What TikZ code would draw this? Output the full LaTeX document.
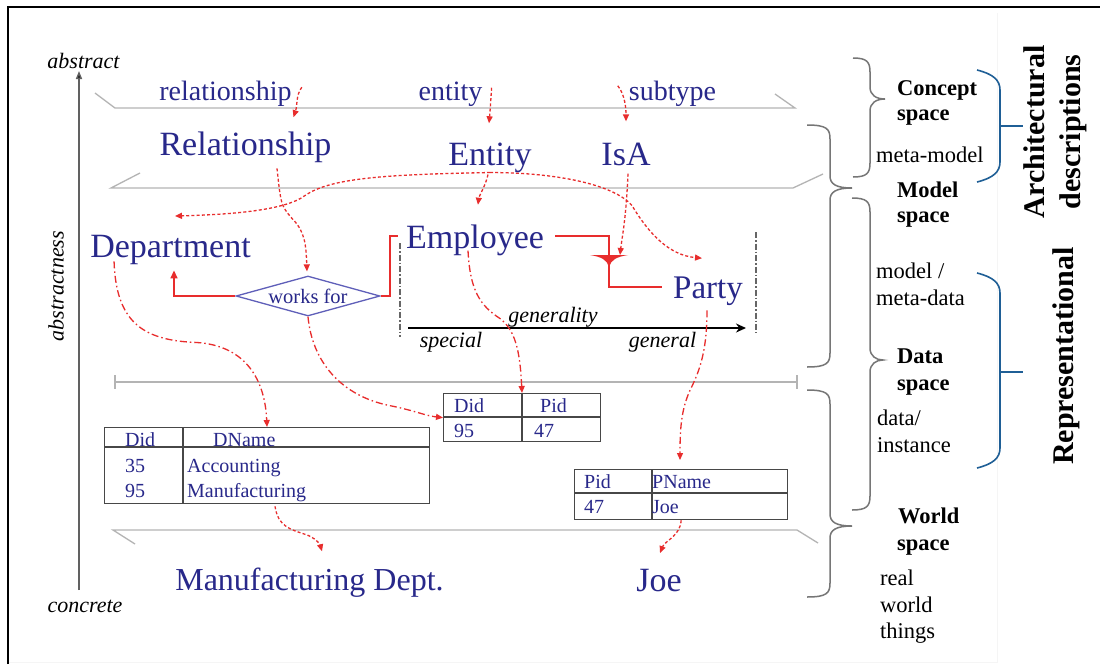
\documentclass[tikz,border=0pt]{standalone}
\usepackage{fontspec}
\setmainfont{Liberation Serif}
\usetikzlibrary{arrows.meta,shapes.geometric,calc}

\definecolor{ink}{RGB}{40,40,138}
\definecolor{rd}{RGB}{232,45,45}
\definecolor{planegray}{RGB}{180,180,180}
\definecolor{bracegray}{RGB}{118,118,118}
\definecolor{bluebr}{RGB}{31,95,150}
\definecolor{diaedge}{RGB}{95,95,185}

\tikzset{
  word/.style={anchor=base, inner sep=0pt, text=ink},
  smallword/.style={word, font=\fontsize{28}{30}\selectfont},
  bigword/.style={word, font=\fontsize{34}{36}\selectfont},
  cell/.style={anchor=base west, inner sep=0pt, text=ink, font=\fontsize{20}{22}\selectfont},
  side/.style={anchor=base west, inner sep=0pt, font=\fontsize{22.5}{24}\selectfont},
  sideb/.style={anchor=base west, inner sep=0pt, font=\fontsize{22.5}{24}\selectfont\bfseries},
  axislbl/.style={inner sep=0pt, font=\fontsize{22}{24}\selectfont\itshape},
  planeline/.style={draw=planegray, line width=1.3pt},
  bracepath/.style={draw=bracegray, line width=1.5pt},
  bluebrace/.style={draw=bluebr, line width=1.6pt},
  redline/.style={draw=rd, line width=1.5pt},
  tip/.style={-{Triangle[length=7pt,width=6pt]}},
  dotarrow/.style={draw=rd, line width=1.3pt, dash pattern=on 3pt off 2.2pt, tip},
  dasharrow/.style={draw=rd, line width=1.3pt, dash pattern=on 7pt off 3pt on 1.5pt off 3pt, tip},
  tbl/.style={draw=black!72, line width=1.3pt, inner sep=0pt, anchor=north west},
  tblline/.style={draw=black!72, line width=1.3pt},
  limitline/.style={draw=black!60, line width=1.2pt, dash pattern=on 6pt off 2pt on 1.5pt off 2pt},
}

% curly brace on the right-hand side: left end x, spine x, tip x, top y, tip y, bottom y
\newcommand{\sidebrace}[6]{%
  \draw[bracepath] (#1,#4) .. controls (#2-3,#4) and (#2,#4+4) .. (#2,#4+14)
    -- (#2,#5-12) .. controls (#2,#5-4) and (#2+6,#5) .. (#3,#5)
    .. controls (#2+6,#5) and (#2,#5+4) .. (#2,#5+12)
    -- (#2,#6-14) .. controls (#2,#6-4) and (#2-3,#6) .. (#1,#6);}

\begin{document}
\begin{tikzpicture}[x=1pt,y=-1pt]
\useasboundingbox (0,0) rectangle (1100,664);
\fill[white] (0,0) rectangle (1100,664);

% frame
\draw[black!4, line width=1pt] (8,662) -- (997,662) -- (997,13);
\draw[line width=2.5pt] (8,664) -- (8,7) -- (1100,7);

% abstraction axis
\coordinate (axbot) at (79,590);
\coordinate (axtop) at (79,71);
\draw[draw=black!62, line width=1.5pt, -{Triangle[length=8pt,width=6pt,fill=black]}] (axbot) -- (axtop);
\node[axislbl, anchor=base] (abs) at (83.5,68) {abstract};
\node[axislbl, anchor=base] (conc) at (85,612) {concrete};
\node[axislbl, rotate=90] (absn) at (56,286) {abstractness};

% plane boundaries
\draw[planeline] (95,93) -- (115,108) -- (795,108) -- (775,94);
\draw[planeline] (140,173) -- (111,188) -- (793,188) -- (823,174);
\draw[planeline] (115,375) -- (115,389);
\draw[planeline] (115,382) -- (797,382);
\draw[planeline] (797,375) -- (797,389);
\draw[planeline] (135,544) -- (113,530) -- (797,530) -- (818,543);

% concept space
\node[smallword] (relw) at (225.5,100) {relationship};
\node[smallword] (entw) at (450.5,100) {entity};
\node[smallword] (subw) at (672.5,100) {subtype};

% model space
\node[bigword] (Rel) at (245.5,155) {Relationship};
\node[bigword] (Ent) at (490,165) {Entity};
\node[bigword] (IsA) at (626,165) {IsA};

% data model
\node[bigword] (dept) at (170.5,257) {Department};
\node[bigword] (emp) at (475,248) {Employee};
\node[word, font=\fontsize{33}{35}\selectfont] (party) at (708,298) {Party};
\node[draw=diaedge, line width=1.3pt, shape=diamond, aspect=3.6,
      minimum width=144pt, minimum height=40pt, inner sep=0pt,
      text=ink, font=\fontsize{20.5}{22}\selectfont] (wf) at (308,296) {works for};

% generality scale
\draw[limitline] (400,243) -- (400,337);
\draw[limitline] (756,232) -- (756,333);
\coordinate (gl) at (408,328);
\coordinate (gr) at (746,328);
\draw[line width=1.5pt, -{Stealth[length=10pt,width=9pt]}] (gl) -- (gr);
\node[axislbl, anchor=base] (genl) at (553,322) {generality};
\node[axislbl, anchor=base] (spec) at (451,347) {special};
\node[axislbl, anchor=base] (gen) at (662.5,347) {general};

% relationship lines
\draw[redline] ($(emp.west)+(-8,-4)$) -- ++(-8,0) |- (wf.east);
\draw[redline, -{Triangle[length=8pt,width=7pt]}] (wf.west) -| ($(dept.south)+(3.5,6)$);
\coordinate (tri) at (609,257);
\draw[redline] ($(emp.east)+(11,-4)$) -| (tri);
\fill[rd] (590,255) -- (628,255) .. controls (616,257) and (611,260) .. (609,267)
  .. controls (607,260) and (602,257) .. (590,255);
\draw[redline] ($(tri)+(0,8)$) |- ($(party.west)+(-11,-4)$);

% tables
\node[tbl, minimum width=325pt, minimum height=76pt] (dtab) at (104,427) {};
\draw[tblline] ($(dtab.north west)+(0,20)$) -- ($(dtab.north east)+(0,20)$);
\draw[tblline] ($(dtab.north west)+(79,0)$) -- ($(dtab.south west)+(79,0)$);
\node[cell] at (125,446) {Did};
\node[cell] at (213,446) {DName};
\node[cell] at (125,472) {35};
\node[cell] at (187,472) {Accounting};
\node[cell] at (125,497) {95};
\node[cell] at (187,497) {Manufacturing};

\node[tbl, minimum width=157pt, minimum height=48pt] (ptab) at (443,393) {};
\draw[tblline] ($(ptab.north west)+(0,24)$) -- ($(ptab.north east)+(0,24)$);
\draw[tblline] ($(ptab.north west)+(79,0)$) -- ($(ptab.south west)+(79,0)$);
\node[cell] at (454,412) {Did};
\node[cell] at (540,412) {Pid};
\node[cell] at (454,437) {95};
\node[cell] at (534,437) {47};

\node[tbl, minimum width=213pt, minimum height=50pt] (pntab) at (574,469) {};
\draw[tblline] ($(pntab.north west)+(0,24)$) -- ($(pntab.north east)+(0,24)$);
\draw[tblline] ($(pntab.north west)+(78,0)$) -- ($(pntab.south west)+(78,0)$);
\node[cell] at (584,488) {Pid};
\node[cell] at (652,488) {PName};
\node[cell] at (584,513) {47};
\node[cell] at (652,513) {Joe};

% world space
\node[word, font=\fontsize{32}{34}\selectfont] (mdept) at (309.5,590) {Manufacturing Dept.};
\node[bigword] (joe) at (659,591) {Joe};

% instantiation arrows between concept and model space
\draw[dotarrow] ($(relw.east)+(10,-6)$) .. controls ($(relw.east)+(4,2)$) and ($(Rel.north)+(52,-26)$) .. ($(Rel.north)+(48,-14)$);
\draw[dotarrow] ($(entw.east)+(9,-6)$) .. controls ($(entw.east)+(8,10)$) and ($(Ent.north)+(0,-30)$) .. ($(Ent.north)+(-1,-19)$);
\draw[dotarrow] ($(subw.west)+(-11,-7.5)$) .. controls ($(subw.west)+(-6,-1.5)$) and ($(IsA.north)+(0,-40)$) .. ($(IsA.north)+(0,-21)$);

% instantiation arrows between model space and data model
\draw[dotarrow] ($(Rel.south)+(31.5,6)$) .. controls ($(Rel.south)+(35.5,43)$) .. ($(Rel.south)+(46.5,56)$)
  .. controls ($(wf.north)+(-3,-44)$) and ($(wf.north)+(-2,-31)$) .. ($(wf.north)+(-1,-4)$);
\draw[dotarrow] (Ent.south) .. controls ($(Ent.south)+(-110,2)$) and ($(Ent.south)+(-160,6)$) .. ($(Ent.south)+(-185,23)$)
  .. controls ($(Ent.south)+(-205,38)$) and ($(dept.north)+(60,-20)$) .. ($(dept.north)+(4.5,-18.5)$);
\draw[dotarrow] (Ent.south) .. controls ($(Ent.south)+(70,0)$) and ($(Ent.south)+(125,13)$) .. ($(Ent.south)+(142,33)$)
  .. controls ($(Ent.south)+(160,63)$) and ($(party.north)+(-38,-21)$) .. ($(party.north)+(-6,-18)$);
\draw[dotarrow] ($(Ent.south)+(-2,2)$) .. controls ($(Ent.south)+(-4,12)$) and ($(emp.north)+(4,-28)$) .. ($(emp.north)+(3,-19.5)$);
\draw[dotarrow] ($(IsA.south)+(2,8)$) .. controls ($(IsA.south)+(0,55)$) and ($(tri)+(13,-20)$) .. ($(tri)+(11,-2)$);

% instantiation arrows between data model and data
\draw[dasharrow] ($(dept.south west)+(24,-3)$) .. controls ($(dept.south west)+(26,56)$) and ($(dept.south west)+(51,76)$) .. ($(dept.south west)+(106,78)$)
  .. controls ($(dept.south west)+(156,81)$) and ($(dtab.north west)+(161,-47)$) .. ($(dtab.north west)+(163,0)$);
\draw[dasharrow] (wf.south) .. controls ($(wf.south)+(4,44)$) and ($(wf.south)+(32,79)$) .. ($(wf.south)+(82,89)$)
  .. controls ($(ptab.west)+(-28,-7)$) and ($(ptab.west)+(-18,-2)$) .. (ptab.west);
\draw[dasharrow] ($(emp.south)+(-7,-5)$) .. controls ($(emp.south)+(-5,35)$) and ($(emp.south)+(5,50)$) .. ($(emp.south)+(25,63)$)
  .. controls ($(ptab.north west)+(72,-63)$) and ($(ptab.north west)+(77,-43)$) .. ($(ptab.north west)+(79,0)$);
\draw[dasharrow] ($(party.south)+(-1,5)$) .. controls ($(party.south)+(-1,45)$) and ($(party.south)+(-8,65)$) .. ($(party.south)+(-18,85)$)
  .. controls ($(pntab.north west)+(107,-59)$) and ($(pntab.north west)+(106,-39)$) .. ($(pntab.north west)+(106,-9)$);

% instantiation arrows between data and world
\draw[dotarrow] ($(dtab.south west)+(171,2)$) .. controls ($(dtab.south west)+(174,22)$) and ($(dtab.south west)+(186,25)$) .. ($(dtab.south west)+(201,30)$)
  .. controls ($(mdept.north)+(5.5,-30)$) and ($(mdept.north)+(10.5,-23)$) .. ($(mdept.north)+(12.5,-16)$);
\draw[dotarrow] (pntab.south) .. controls ($(pntab.south)+(-1,16)$) and ($(joe.north)+(6,-28)$) .. ($(joe.north)+(1,-15.5)$);

% space braces
\sidebrace{853}{870}{885}{58}{99}{177}
\sidebrace{807}{830}{852}{125}{188}{367}
\sidebrace{852}{870}{883}{198}{360}{510}
\sidebrace{807}{830}{852}{390}{526}{597}

% space labels
\node[sideb] (cs1) at (897,95) {Concept};
\node[sideb] (cs2) at (897,120) {space};
\node[side] (cs3) at (876,162) {meta-model};
\node[sideb] (ms1) at (897,197) {Model};
\node[sideb] (ms2) at (897,222) {space};
\node[side] (ms3) at (876,278) {model /};
\node[side] (ms4) at (876,305) {meta-data};
\node[sideb] (ds1) at (897,363) {Data};
\node[sideb] (ds2) at (897,390) {space};
\node[side] (ds3) at (877,425) {data/};
\node[side] (ds4) at (877,452) {instance};
\node[sideb] (ws1) at (898,523) {World};
\node[sideb] (ws2) at (897,550) {space};
\node[side] (ws3) at (880,585) {real};
\node[side] (ws4) at (880,612) {world};
\node[side] (ws5) at (880,638) {things};

% grouping brackets
\draw[bluebrace] (977,70) .. controls (993,74) and (1000,80) .. (1000,90) -- (1000,162)
  .. controls (1000,172) and (993,178) .. (977,182);
\draw[bluebrace] (1000,126) -- (1023,126);
\draw[bluebrace] (977,273) .. controls (993,277) and (1000,283) .. (1000,293) -- (1000,448)
  .. controls (1000,458) and (993,464) .. (977,468);
\draw[bluebrace] (1000,372) -- (1023,372);

\node[rotate=90, inner sep=0pt, align=center, font=\fontsize{30}{36}\selectfont\bfseries] (arch) at (1055,132) {Architectural\\descriptions};
\node[rotate=90, inner sep=0pt, font=\fontsize{30}{36}\selectfont\bfseries] (repr) at (1066,356) {Representational};
\end{tikzpicture}
\end{document}
